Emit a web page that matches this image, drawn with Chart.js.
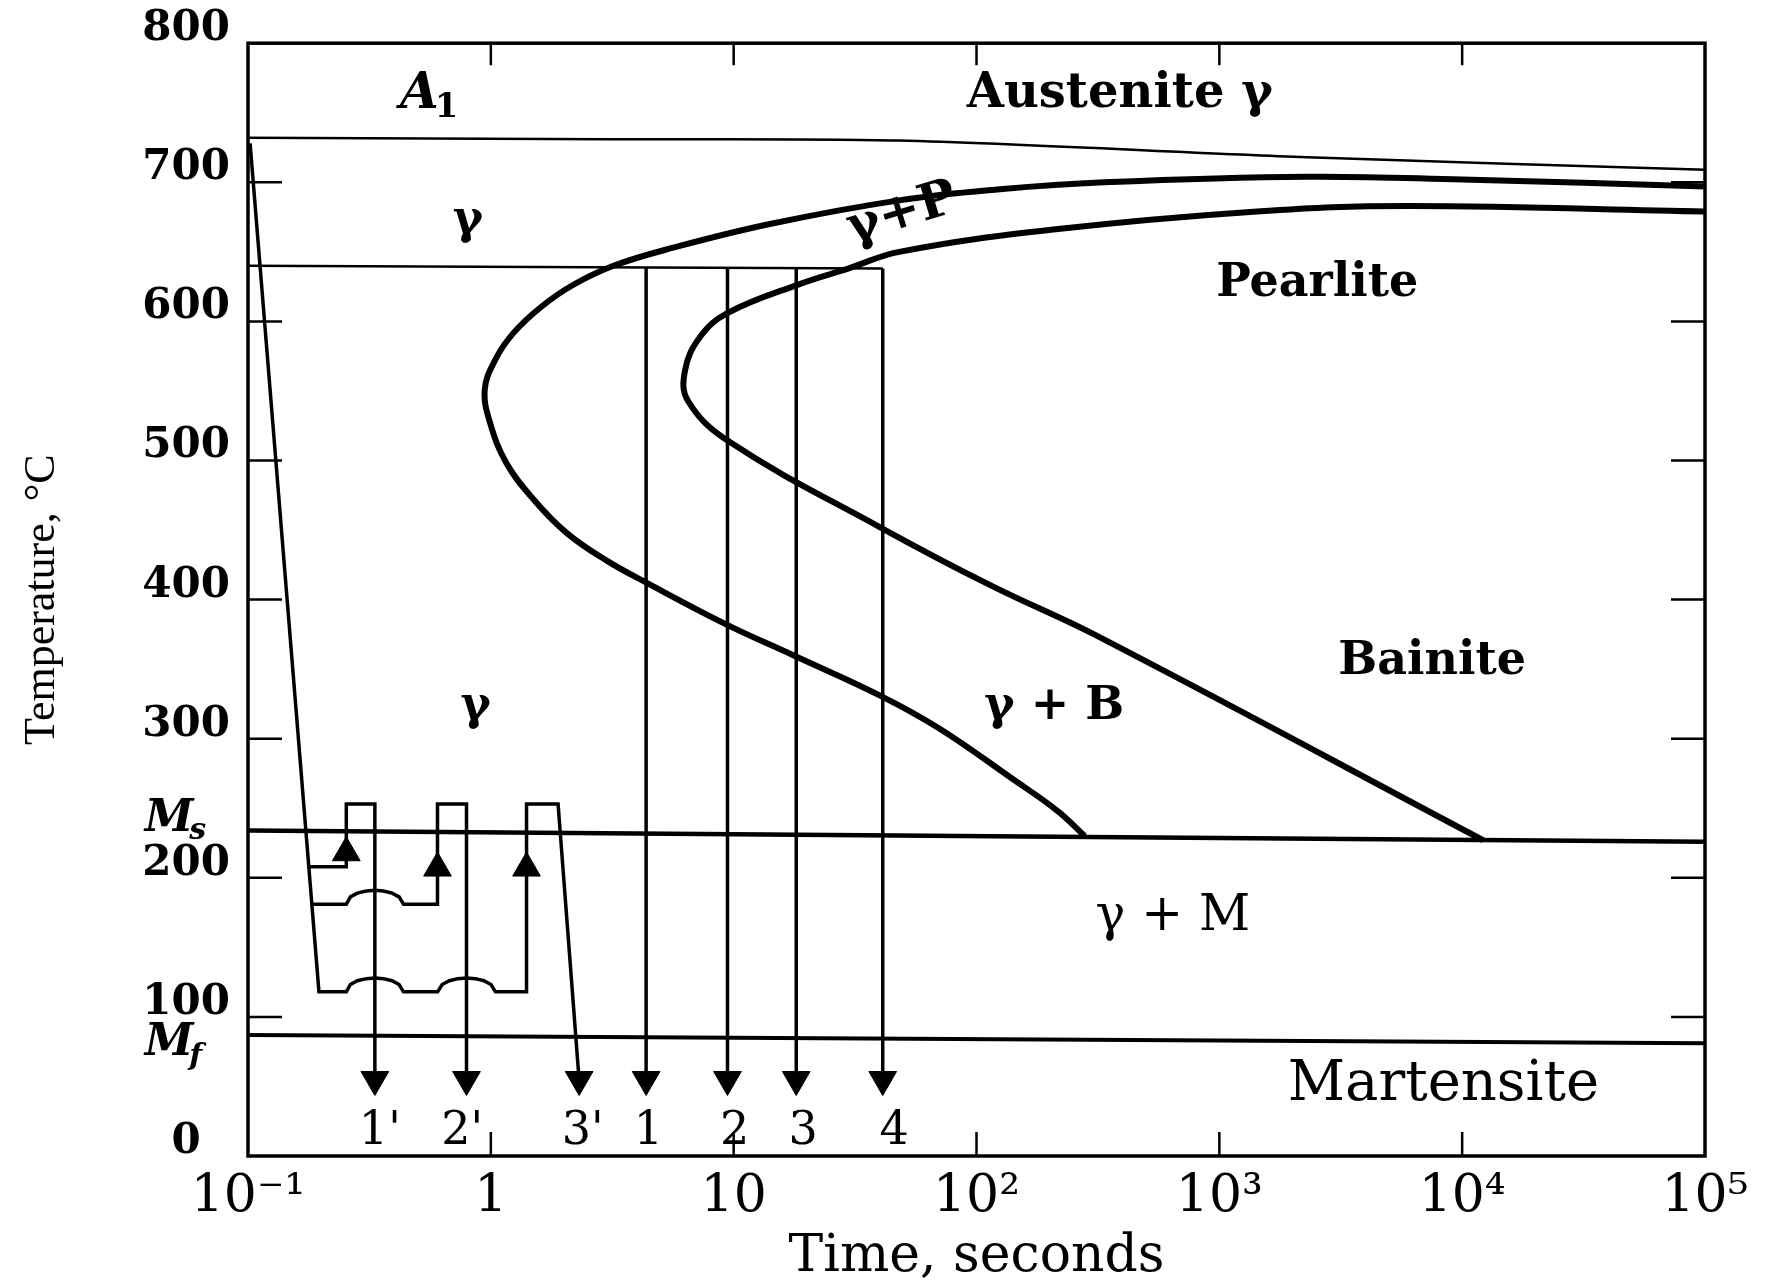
<!DOCTYPE html>
<html lang="en">
<head>
<meta charset="UTF-8">
<title>TTT diagram</title>
<script src="https://cdn.jsdelivr.net/npm/chart.js"></script>
<style>
  html, body { margin: 0; padding: 0; background: #fff; }
  canvas { display: block; }
</style>
</head>
<body>
<canvas id="ttt" width="1768" height="1283"></canvas>
<script>
// axes
const xTicks = [0.1, 1, 10, 100, 1000, 10000, 100000];
const xTickLabels = ['10\u207B\u00B9', '1', '10', '10\u00B2', '10\u00B3', '10\u2074', '10\u2075'];
const yTicks = [0, 100, 200, 300, 400, 500, 600, 700, 800];
const yTickLabels = ['0', '100', '200', '300', '400', '500', '600', '700', '800'];

// A1 line
const a1Time = [0.1, 3, 48, 2300, 100000];
const a1Temp = [732, 731, 730, 718, 709];

// start of transformation (outer C curve)
const startTime = [100000, 10000, 2300, 335, 125, 48, 14.1, 5.64, 3.2, 2.17, 1.6, 1.23, 1.04, 0.944, 0.993, 1.16, 1.5, 2.05, 3.0, 4.39, 9.36, 17.6, 40.1, 70.8, 141, 216, 279];
const startTemp = [697, 702, 704, 700, 695, 687, 670, 653, 640, 626, 610, 591, 572, 551, 527, 498, 472, 448, 428, 412, 382, 360, 331, 307, 271, 248, 230];

// end of transformation (inner C curve)
const finishTime = [100000, 6000, 1430, 207, 48, 29.6, 18.8, 9.42, 7.28, 6.31, 6.48, 9.5, 40.1, 115, 321, 12200];
const finishTemp = [679, 683, 679, 666, 650, 638, 627, 606, 589, 565, 543, 514, 452, 410, 373, 227];

// Ms and Mf
const msTime = [0.1, 100000];
const msTemp = [234, 226];
const mfTime = [0.1, 100000];
const mfTemp = [87, 81];

// isothermal hold, then quench paths 1-4
const holdTime = [0.1, 41.1];
const holdTemp = [640, 638];
const quenchTime = [4.36, 9.43, 18.1, 41.1];
const quenchTop = [639, 639, 638, 638];
const quenchEnd = 50;

// paths 1', 2', 3'
const path1Time = [0.178, 0.254, 0.254, 0.333, 0.333];
const path1Temp = [208, 208, 253, 253, 50];
const path2Time = [0.184, 0.254, 0.264, 0.282, 0.307, 0.333, 0.361, 0.392, 0.419, 0.437, 0.603, 0.603, 0.794, 0.794];
const path2Temp = [181, 181, 186.3, 189, 190.5, 191, 190.5, 189, 186.3, 181, 181, 253, 253, 50];
const path3Time = [0.102, 0.196, 0.254, 0.264, 0.282, 0.307, 0.333, 0.361, 0.392, 0.419, 0.437, 0.604, 0.630, 0.675, 0.731, 0.794, 0.863, 0.936, 1.002, 1.045, 1.403, 1.403, 1.892, 2.32];
const path3Temp = [728, 118, 118, 123.3, 126, 127.5, 128, 127.5, 126, 123.3, 118, 118, 123.3, 126, 127.5, 128, 127.5, 126, 123.3, 118, 118, 253, 253, 50];

// arrow heads
const upArrowTime = [0.254, 0.603, 1.403];
const upArrowTemp = [218, 207, 207];
const downArrowTime = [0.333, 0.794, 2.31, 4.36, 9.43, 18.1, 41.1];
const downArrowTemp = [55, 55, 55, 55, 55, 55, 55];
const arrowLabels = ["1'", "2'", "3'", '1', '2', '3', '4'];
const arrowLabelTime = [0.349, 0.762, 2.39, 4.45, 10.1, 19.3, 45.8];
const arrowLabelTemp = 17;

// region names
const notes = [
  { text: 'Austenite \u03B3', t: 389, T: 763, font: 'bold 48px "DejaVu Serif"' },
  { text: '\u03B3', t: 0.805, T: 672, font: 'bold 46px "DejaVu Serif"' },
  { text: '\u03B3+P', t: 49.4, T: 677, font: 'bold 50px "DejaVu Serif"', angle: -17 },
  { text: 'Pearlite', t: 2530, T: 627, font: 'bold 46px "DejaVu Serif"' },
  { text: '\u03B3', t: 0.867, T: 323, font: 'bold 46px "DejaVu Serif"' },
  { text: 'Bainite', t: 7520, T: 355, font: 'bold 46px "DejaVu Serif"' },
  { text: '\u03B3 + B', t: 209, T: 323, font: 'bold 46px "DejaVu Serif"' },
  { text: '\u03B3 + M', t: 643, T: 172, font: '50px "DejaVu Serif"' },
  { text: 'Martensite', t: 8370, T: 51, font: '56px "DejaVu Serif"' }
];

function pts(xs, ys) {
  return xs.map((v, i) => ({ x: v, y: Array.isArray(ys) ? ys[i] : ys }));
}
function line(xs, ys, width, tension) {
  return {
    data: pts(xs, ys), showLine: true, borderColor: '#000', borderWidth: width,
    pointRadius: 0, tension: tension || 0, fill: false, borderJoinStyle: 'miter'
  };
}
function arrows(xs, ys, rot) {
  return {
    data: pts(xs, ys), showLine: false, pointStyle: 'triangle', pointRadius: 16,
    pointRotation: rot, backgroundColor: '#000', borderColor: '#000', borderWidth: 1
  };
}

function withSub(ctx, main, sub, cx, cy, font, subFont, dx, dy) {
  ctx.font = font;
  const w = ctx.measureText(main).width;
  ctx.textAlign = 'center';
  ctx.fillText(main, cx, cy);
  ctx.font = subFont;
  ctx.textAlign = 'left';
  ctx.fillText(sub, cx + w / 2 + dx, cy + dy);
  ctx.textAlign = 'center';
}

const overlay = {
  id: 'overlay',
  afterDatasetsDraw(chart) {
    const { ctx, chartArea: a, scales: { x, y } } = chart;
    ctx.save();
    ctx.strokeStyle = '#000';
    ctx.fillStyle = '#000';
    ctx.lineWidth = 3.5;
    ctx.strokeRect(a.left, a.top, a.right - a.left, a.bottom - a.top);
    // inward tick marks on all four sides
    ctx.lineWidth = 2.5;
    ctx.beginPath();
    yTicks.slice(1, -1).forEach(v => {
      const py = y.getPixelForValue(v);
      ctx.moveTo(a.left, py); ctx.lineTo(a.left + 34, py);
      ctx.moveTo(a.right, py); ctx.lineTo(a.right - 34, py);
    });
    xTicks.slice(1, -1).forEach(v => {
      const px = x.getPixelForValue(v);
      ctx.moveTo(px, a.top); ctx.lineTo(px, a.top + 22);
      ctx.moveTo(px, a.bottom); ctx.lineTo(px, a.bottom - 24);
    });
    ctx.stroke();

    ctx.textAlign = 'center';
    ctx.textBaseline = 'middle';
    notes.forEach(n => {
      ctx.save();
      ctx.translate(x.getPixelForValue(n.t), y.getPixelForValue(n.T));
      if (n.angle) ctx.rotate(n.angle * Math.PI / 180);
      ctx.font = n.font;
      ctx.fillText(n.text, 0, 0);
      ctx.restore();
    });
    ctx.font = '46px "DejaVu Serif"';
    arrowLabels.forEach((s, i) => {
      ctx.fillText(s, x.getPixelForValue(arrowLabelTime[i]), y.getPixelForValue(arrowLabelTemp));
    });
    withSub(ctx, 'A', '1', x.getPixelForValue(0.508), y.getPixelForValue(763),
      'italic bold 50px "DejaVu Serif"', 'bold 34px "DejaVu Serif"', -4, 14);
    withSub(ctx, 'M', 's', a.left - 79, y.getPixelForValue(242),
      'italic bold 44px "DejaVu Serif"', 'italic bold 30px "DejaVu Serif"', -4, 12);
    withSub(ctx, 'M', 'f', a.left - 79, y.getPixelForValue(81),
      'italic bold 44px "DejaVu Serif"', 'italic bold 30px "DejaVu Serif"', -4, 14);
    ctx.restore();
  }
};

const datasets = [
  line(a1Time, a1Temp, 2.5, 0.3),
  line(startTime, startTemp, 6, 0.4),
  line(finishTime, finishTemp, 6, 0.4),
  line(msTime, msTemp, 4.5),
  line(mfTime, mfTemp, 4),
  line(holdTime, holdTemp, 2.5),
  line(path1Time, path1Temp, 3.5),
  line(path2Time, path2Temp, 3.5),
  line(path3Time, path3Temp, 3.5)
];
quenchTime.forEach((t, i) => datasets.push(line([t, t], [quenchTop[i], quenchEnd], 3.5)));
datasets.push(arrows(upArrowTime, upArrowTemp, 0));
datasets.push(arrows(downArrowTime, downArrowTemp, 180));

new Chart(document.getElementById('ttt'), {
  type: 'scatter',
  data: { datasets },
  options: {
    responsive: false,
    animation: false,
    layout: { padding: { top: 38, right: 63, left: 0, bottom: 0 } },
    plugins: { legend: { display: false }, tooltip: { enabled: false } },
    scales: {
      x: {
        type: 'logarithmic', min: 0.1, max: 100000,
        afterBuildTicks: s => { s.ticks = xTicks.map(v => ({ value: v })); },
        afterFit: s => { s.height = 127; },
        grid: { display: false, drawTicks: false },
        border: { display: false },
        ticks: {
          autoSkip: false, maxRotation: 0, padding: 10, color: '#000',
          font: { family: 'DejaVu Serif', size: 52 },
          callback: (v, i) => xTickLabels[i]
        },
        title: {
          display: true, text: 'Time, seconds', color: '#000',
          font: { family: 'DejaVu Serif', size: 52, lineHeight: 1 },
          padding: { top: 0, bottom: 0 }
        }
      },
      y: {
        min: 0, max: 800,
        afterBuildTicks: s => { s.ticks = yTicks.map(v => ({ value: v })); },
        afterFit: s => { s.width = 248; },
        grid: { display: false, drawTicks: false },
        border: { display: false },
        ticks: {
          crossAlign: 'center', padding: 18, labelOffset: -14, color: '#000',
          font: { family: 'DejaVu Serif', size: 42, weight: 'bold' },
          callback: (v, i) => yTickLabels[i]
        },
        title: {
          display: true, text: 'Temperature, \u00B0C', color: '#000',
          font: { family: 'Liberation Serif', size: 44, lineHeight: 1 },
          padding: { top: 20, bottom: 0 }
        }
      }
    }
  },
  plugins: [overlay]
});
</script>
</body>
</html>
